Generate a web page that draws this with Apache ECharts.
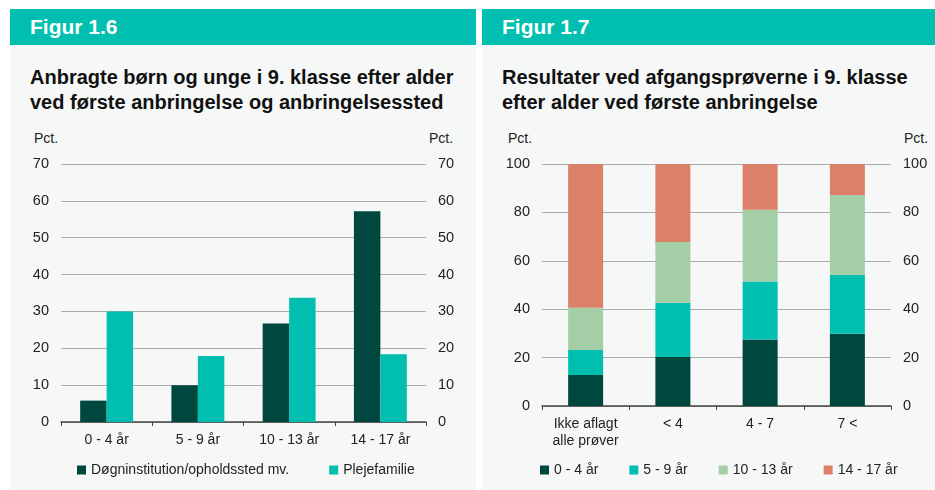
<!DOCTYPE html>
<html>
<head>
<meta charset="utf-8">
<script src="https://cdn.jsdelivr.net/npm/echarts@6/dist/echarts.min.js"></script>
<style>
  body { margin: 0; width: 935px; height: 490px; background: #fff; font-family: "Liberation Sans", Arial, sans-serif; position: relative; overflow: hidden; }
  .panel { position: absolute; top: 9px; height: 481px; background: #f6f8f8; }
  .head { position: absolute; left: 0; top: 0; right: 0; height: 36px; background: #00bfb0; color: #fff; font-weight: bold; font-size: 21px; line-height: 36px; padding-left: 20px; }
  .title { position: absolute; left: 20px; top: 56px; font-weight: bold; font-size: 20px; line-height: 25px; color: #111; }
  .pct { position: absolute; top: 121px; font-size: 14px; color: #222; }
  .chart { position: absolute; top: -9px; height: 490px; }
</style>
</head>
<body>
<div class="panel" style="left:10px; width:466px;">
  <div class="head">Figur 1.6</div>
  <div class="title">Anbragte børn og unge i 9. klasse efter alder<br>ved første anbringelse og anbringelsessted</div>
  <div class="pct" style="left:24px;">Pct.</div>
  <div class="pct" style="left:419px;">Pct.</div>
  <div id="c1" class="chart" style="left:0; width:466px;"></div>
</div>
<div class="panel" style="left:482px; width:453px;">
  <div class="head">Figur 1.7</div>
  <div class="title">Resultater ved afgangsprøverne i 9. klasse<br>efter alder ved første anbringelse</div>
  <div class="pct" style="left:26px;">Pct.</div>
  <div class="pct" style="left:422px;">Pct.</div>
  <div id="c2" class="chart" style="left:0; width:453px;"></div>
</div>
<script>
var ageCats = ['0 - 4 år', '5 - 9 år', '10 - 13 år', '14 - 17 år'];
var doegn = [5.8, 10.0, 26.7, 57.2];
var pleje = [30.0, 17.9, 33.7, 18.4];

var resultCats = ['Ikke aflagt\nalle prøver', '< 4', '4 - 7', '7 <'];
var age0_4 = [12.8, 20.2, 27.5, 29.9];
var age5_9 = [10.3, 22.5, 23.9, 24.2];
var age10_13 = [17.5, 25.1, 29.7, 33.1];
var age14_17 = [59.4, 32.2, 18.9, 12.8];

var cDark = '#00473f', cTeal = '#00bfb0', cLight = '#a3cea6', cSalmon = '#dc8069';
var font = 'Liberation Sans';
var txt = { color: '#222', fontSize: 14.5, fontFamily: font };

function yAxes(max, interval, margin) {
    var base = {
        type: 'value', min: 0, max: max, interval: interval,
        axisLine: { show: false }, axisTick: { show: false },
        axisLabel: Object.assign({ margin: margin }, txt)
    };
    return [
        Object.assign({ position: 'left', splitLine: { lineStyle: { color: '#ababab' } } }, base),
        Object.assign({ position: 'right', splitLine: { show: false } }, base)
    ];
}

function xAxis(cats) {
    return {
        type: 'category', data: cats,
        axisLine: { lineStyle: { color: '#444', width: 1.5 } },
        axisTick: { show: true, length: 4, lineStyle: { color: '#444' } },
        axisLabel: Object.assign({ margin: 10, lineHeight: 17 }, txt, { fontSize: 14 })
    };
}

var chart1 = echarts.init(document.getElementById('c1'));
chart1.setOption({
    animation: false,
    grid: { left: 51, right: 50, top: 164, bottom: 68 },
    legend: {
        left: 62, top: 458, itemWidth: 9, itemHeight: 9, itemGap: 40,
        icon: 'rect', textStyle: Object.assign({}, txt, { fontSize: 14 }),
        data: ['Døgninstitution/opholdssted mv.', 'Plejefamilie']
    },
    xAxis: xAxis(ageCats),
    yAxis: yAxes(70, 10, 12),
    series: [
        { name: 'Døgninstitution/opholdssted mv.', type: 'bar', data: doegn, barGap: 0, barCategoryGap: '42%', itemStyle: { color: cDark } },
        { name: 'Plejefamilie', type: 'bar', data: pleje, barGap: 0, barCategoryGap: '42%', itemStyle: { color: cTeal } }
    ]
});

var chart2 = echarts.init(document.getElementById('c2'));
chart2.setOption({
    animation: false,
    grid: { left: 60, right: 44, top: 164, bottom: 84 },
    legend: {
        left: 53, top: 458, itemWidth: 9, itemHeight: 9, itemGap: 31,
        icon: 'rect', textStyle: Object.assign({}, txt, { fontSize: 14 }),
        data: ['0 - 4 år', '5 - 9 år', '10 - 13 år', '14 - 17 år']
    },
    xAxis: xAxis(resultCats),
    yAxis: yAxes(100, 20, 12),
    series: [
        { name: '0 - 4 år', type: 'bar', stack: 'a', barWidth: 35, data: age0_4, itemStyle: { color: cDark } },
        { name: '5 - 9 år', type: 'bar', stack: 'a', barWidth: 35, data: age5_9, itemStyle: { color: cTeal } },
        { name: '10 - 13 år', type: 'bar', stack: 'a', barWidth: 35, data: age10_13, itemStyle: { color: cLight } },
        { name: '14 - 17 år', type: 'bar', stack: 'a', barWidth: 35, data: age14_17, itemStyle: { color: cSalmon } }
    ]
});
</script>
</body>
</html>
